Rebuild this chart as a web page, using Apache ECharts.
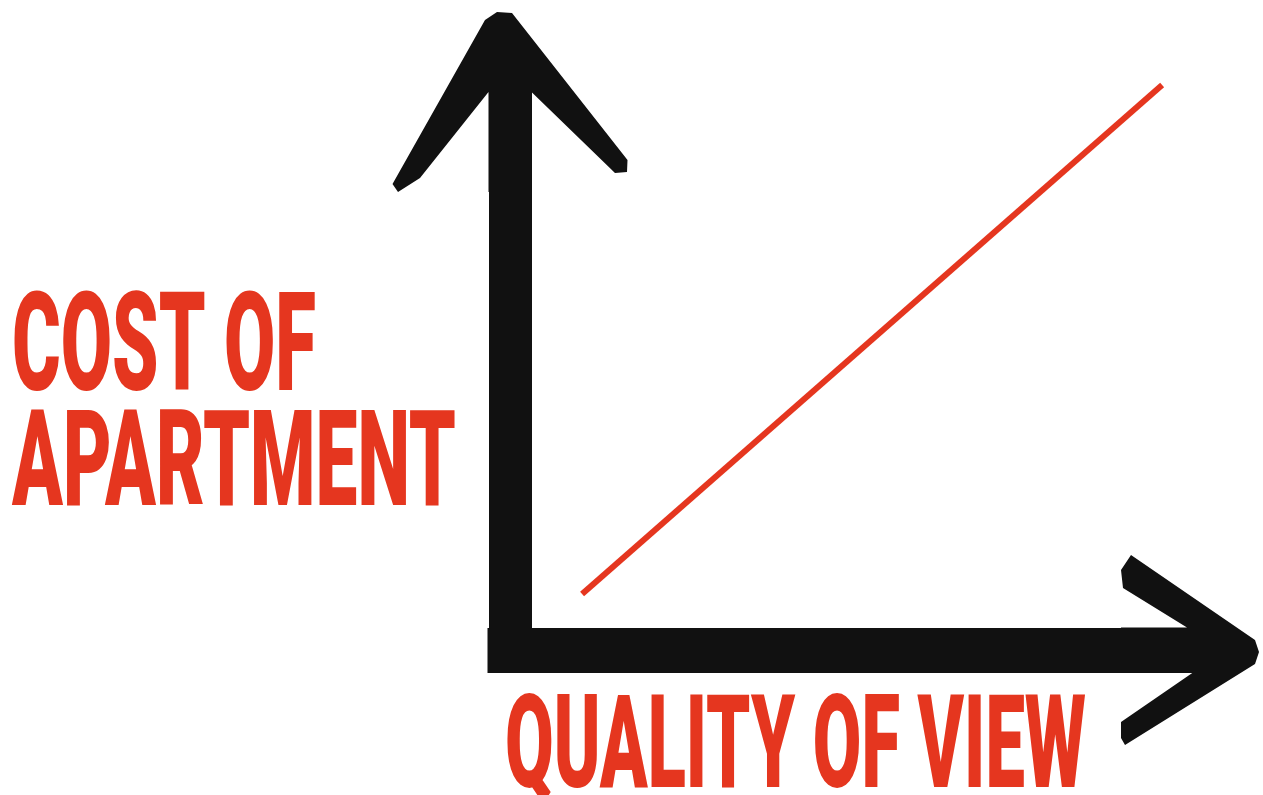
<!DOCTYPE html>
<html>
<head>
<meta charset="utf-8">
<title>Cost of apartment vs quality of view</title>
<script src="https://cdn.jsdelivr.net/npm/echarts@6/dist/echarts.min.js"></script>
<style>
  html, body { margin: 0; padding: 0; background: #fff; }
  #chart { width: 1263px; height: 795px; }
</style>
</head>
<body>
<div id="chart"></div>
<script>
// the single red line, in axis units (0..100 on both axes)
const viewQuality = [10.6, 95.9];
const apartmentCost = [10.2, 103.1];

const yTitleLines = ['COST OF', 'APARTMENT'];
const xTitle = 'QUALITY OF VIEW';

const RED = '#e5361f';
const INK = '#111';

// hand drawn arrow heads, drawn pointing up (echarts rotates them per axis)
// the shaft stub in each path is centred so it lines up with the axis line
const yArrowPath = 'path://M104.5,0 L119.5,1 L235,148 L234.5,160 L222.5,161 L139,80 L139,180 L96,180 L96,80 L27.5,166 L5.5,180 L0,172 L92.5,8 Z';
const xArrowPath = 'path://M97,0 L109,4 L190,134 L183,138 L167,138 L117.5,66 L117.5,138 L72.5,138 L72.5,72 L33,136 L15,138 L0,128 L85,4 Z';

// squeeze a heavy font horizontally so it looks like a condensed poster face
const measureCtx = document.createElement('canvas').getContext('2d');
function fitScale(text, font, width) {
  measureCtx.font = font;
  return width / measureCtx.measureText(text).width;
}

function titleText(text, x, y, size, width) {
  const font = '900 ' + size + 'px Roboto';
  return {
    type: 'text',
    x: x,
    y: y,
    scaleX: fitScale(text, font, width),
    style: {
      text: text,
      font: font,
      fill: RED,
      textAlign: 'left',
      textVerticalAlign: 'middle'
    }
  };
}

const chart = echarts.init(document.getElementById('chart'));

chart.setOption({
  animation: false,
  backgroundColor: '#fff',
  grid: { left: 510, right: 73, top: 102, bottom: 145 },
  xAxis: {
    type: 'value',
    min: 0,
    max: 100,
    axisLine: {
      show: true,
      symbol: ['none', xArrowPath],
      symbolSize: [190, 138],
      lineStyle: { color: INK, width: 45, cap: 'square' }
    },
    axisTick: { show: false },
    axisLabel: { show: false },
    splitLine: { show: false }
  },
  yAxis: {
    type: 'value',
    min: 0,
    max: 100,
    axisLine: {
      show: true,
      symbol: ['none', yArrowPath],
      symbolSize: [235, 180],
      lineStyle: { color: INK, width: 43, cap: 'square' }
    },
    axisTick: { show: false },
    axisLabel: { show: false },
    splitLine: { show: false }
  },
  series: [
    {
      type: 'line',
      data: viewQuality.map((v, i) => [v, apartmentCost[i]]),
      showSymbol: false,
      clip: false,
      z: 1,
      lineStyle: { color: RED, width: 6 }
    }
  ],
  graphic: [
    titleText(yTitleLines[0], 12, 355, 138, 304),
    titleText(yTitleLines[1], 12, 471, 134, 444),
    titleText(xTitle, 505, 755, 129, 581)
  ]
});
</script>
</body>
</html>
